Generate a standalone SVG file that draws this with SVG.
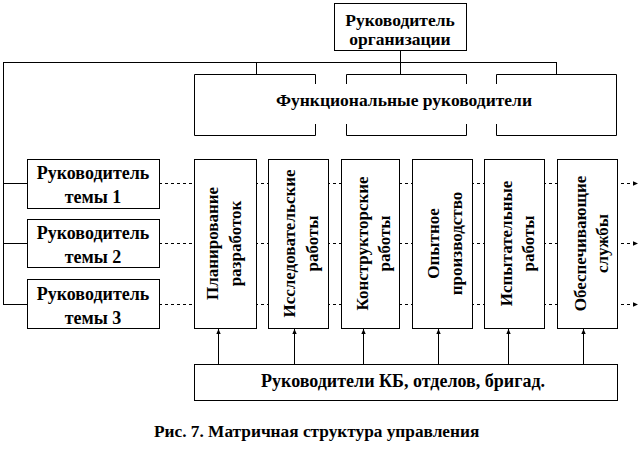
<svg xmlns="http://www.w3.org/2000/svg" width="643" height="453" viewBox="0 0 643 453">
<style>
.box{fill:#fff;stroke:#000;stroke-width:1}
.ln{fill:none;stroke:#000;stroke-width:1}
.dash{fill:none;stroke:#000;stroke-width:1;stroke-dasharray:3,3}
.t{font-family:'Liberation Serif','Times New Roman',serif;font-weight:700;font-size:17px;fill:#000}
.c{text-anchor:middle}
.l{font-size:18px}
.m{font-size:17.5px}
</style>
<defs>
<marker id="ar" markerUnits="userSpaceOnUse" markerWidth="6" markerHeight="6" refX="5" refY="3" orient="auto">
<path d="M0,0.8 L5,3 L0,5.2 Z" fill="#000"/>
</marker>
</defs>
<rect width="643" height="453" fill="#fff"/>
<g id="connectors">
<path class="ln" d="M400.5,50 V74 M3.5,62.5 H556.5 M256.5,62 V74 M556.5,62 V74 M3.5,62 V304.5"/>
<path class="ln" d="M3,183.5 H27 M3,243.5 H27 M3,304.5 H27"/>
<path class="dash" d="M159,183.5 H638" marker-end="url(#ar)"/>
<path class="dash" d="M159,243.5 H638" marker-end="url(#ar)"/>
<path class="dash" d="M159,304.5 H638" marker-end="url(#ar)"/>
<path class="ln" d="M218.5,364 V329" marker-end="url(#ar)"/>
<path class="ln" d="M294.5,364 V329" marker-end="url(#ar)"/>
<path class="ln" d="M363.5,364 V329" marker-end="url(#ar)"/>
<path class="ln" d="M438.5,364 V329" marker-end="url(#ar)"/>
<path class="ln" d="M508.5,364 V329" marker-end="url(#ar)"/>
<path class="ln" d="M583.5,364 V329" marker-end="url(#ar)"/>
</g>
<g id="head">
<rect class="box" x="334.5" y="3.5" width="132" height="47"/>
<text class="t c m" x="400" y="26">Руководитель<tspan x="400" y="45">организации</tspan></text>
</g>
<g id="functional">
<path class="ln" d="M315.5,84 V74.5 H194.5 V135.5 H315.5 V124"/>
<path class="ln" d="M346.5,84 V74.5 H466.5 V84 M346.5,124 V135.5 H466.5 V124"/>
<path class="ln" d="M496.5,84 V74.5 H616.5 V135.5 H496.5 V124"/>
<text class="t c m" x="404" y="106">Функциональные руководители</text>
</g>
<g id="theme1">
<rect class="box" x="27.5" y="159.5" width="132" height="49"/>
<text class="t c l" x="93" y="179">Руководитель<tspan x="93" y="203">темы 1</tspan></text>
</g>
<g id="theme2">
<rect class="box" x="27.5" y="219.5" width="132" height="48"/>
<text class="t c l" x="93" y="239">Руководитель<tspan x="93" y="263">темы 2</tspan></text>
</g>
<g id="theme3">
<rect class="box" x="27.5" y="279.5" width="132" height="49"/>
<text class="t c l" x="93" y="300">Руководитель<tspan x="93" y="324">темы 3</tspan></text>
</g>
<g id="col1">
<rect class="box" x="194.5" y="159.5" width="62" height="169"/>
<text class="t c" transform="translate(218,243.5) rotate(-90)">Планирование<tspan x="0" y="23">разработок</tspan></text>
</g>
<g id="col2">
<rect class="box" x="268.5" y="159.5" width="60" height="169"/>
<text class="t c" transform="translate(295,243.5) rotate(-90)">Исследовательские<tspan x="0" y="23">работы</tspan></text>
</g>
<g id="col3">
<rect class="box" x="341.5" y="159.5" width="58" height="169"/>
<text class="t c" transform="translate(368,243.5) rotate(-90)">Конструкторские<tspan x="0" y="22">работы</tspan></text>
</g>
<g id="col4">
<rect class="box" x="412.5" y="159.5" width="60" height="169"/>
<text class="t c" transform="translate(439,243.5) rotate(-90)">Опытное<tspan x="0" y="23">производство</tspan></text>
</g>
<g id="col5">
<rect class="box" x="484.5" y="159.5" width="60" height="169"/>
<text class="t c" transform="translate(512,243.5) rotate(-90)">Испытательные<tspan x="0" y="22">работы</tspan></text>
</g>
<g id="col6">
<rect class="box" x="557.5" y="159.5" width="60" height="169"/>
<text class="t c" transform="translate(586,243.5) rotate(-90)">Обеспечивающие<tspan x="0" y="22">службы</tspan></text>
</g>
<g id="bottom">
<rect class="box" x="194.5" y="364.5" width="423" height="36"/>
<text class="t c l" x="403" y="387">Руководители КБ, отделов, бригад.</text>
</g>
<g id="caption">
<text class="t" x="154" y="437" style="font-size:17.3px">Рис. 7. Матричная структура управления</text>
</g>
</svg>
